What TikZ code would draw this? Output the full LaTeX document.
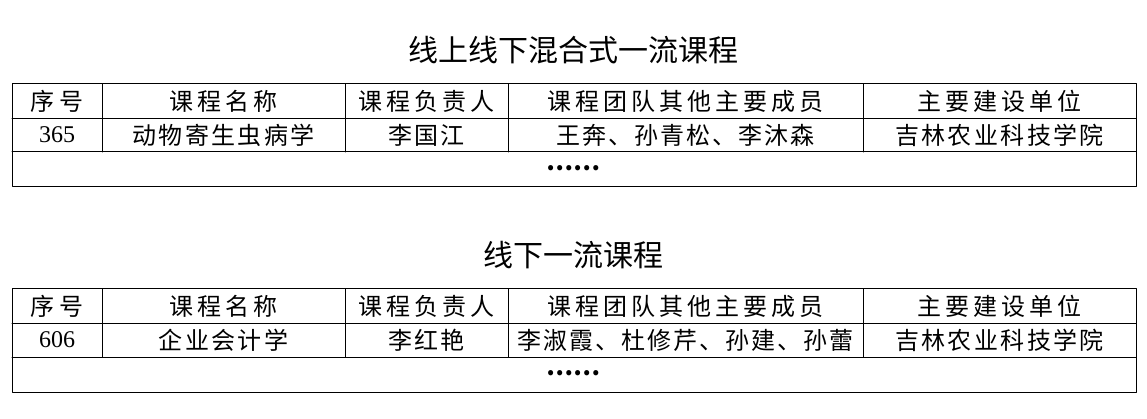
\documentclass[tikz,border=0pt]{standalone}
\usepackage{fontspec}
\newfontfamily\cjk{Noto Sans CJK SC}
\newfontfamily\numfont{Liberation Serif}
\begin{document}
\begin{tikzpicture}[x=1pt, y=-1pt, line width=1pt, line join=round, line cap=round,
	title/.style={font=\cjk\fontsize{30}{36}\selectfont},
	head/.style={font=\cjk\fontsize{24}{28}\selectfont\addfontfeature{LetterSpace=17}},
	cell/.style={font=\cjk\fontsize{24}{28}\selectfont\addfontfeature{LetterSpace=10}},
	team/.style={font=\cjk\fontsize{24}{28}\selectfont\addfontfeature{LetterSpace=8}},
	dots/.style={font=\cjk\fontsize{24}{28}\selectfont\bfseries},
	num/.style={font=\numfont\fontsize{24}{28}\selectfont}]
	\useasboundingbox (0,0) rectangle (1147,419);
	% the two tables are the same frame, 205 apart
	\foreach \dy/\ttl/\no/\course/\lead/\mates in {0/线上线下混合式一流课程/365/动物寄生虫病学/李国江/王奔、孙青松、李沐森, 205/线下一流课程/606/企业会计学/李红艳/李淑霞、杜修芹、孙建、孙蕾}{
		\node[title] (ttl\dy) at (573,50+\dy) {\ttl};
		\draw (12,84+\dy) rectangle (1136,187+\dy);
		\draw (12,118.5+\dy) -- (1136,118.5+\dy);
		\draw (12,152+\dy) -- (1136,152+\dy);
		\foreach \x in {102,345,508,863} \draw (\x,84+\dy) -- (\x,152+\dy);
		\foreach \x/\h [count=\i] in {57/序号,223.5/课程名称,426.5/课程负责人,685.5/课程团队其他主要成员,999.5/主要建设单位}
			\node[head] (head\i-\dy) at (\x,101.5+\dy) {\h};
		\node[num] (no\dy) at (57,135+\dy) {\no};
		\node[cell] (course\dy) at (223.5,135+\dy) {\course};
		\node[cell] (lead\dy) at (426.5,135+\dy) {\lead};
		\node[team] (mates\dy) at (685.5,135+\dy) {\mates};
		\node[cell] (unit\dy) at (999.5,135+\dy) {吉林农业科技学院};
		\node[dots] (dots\dy) at (573,168+\dy) {……};
	}
\end{tikzpicture}
\end{document}
